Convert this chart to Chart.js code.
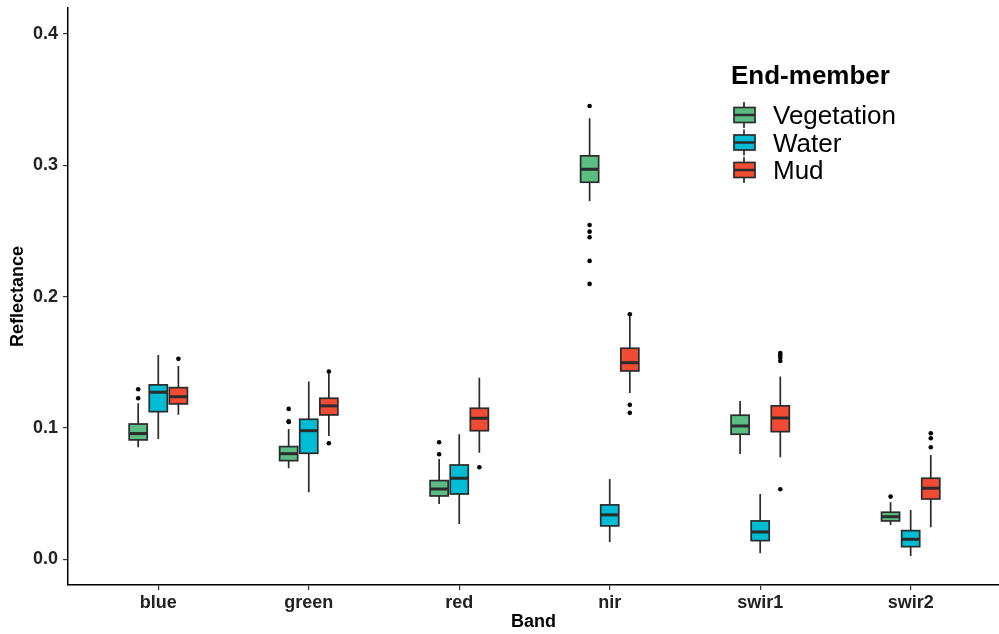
<!DOCTYPE html>
<html>
<head>
<meta charset="utf-8">
<script src="https://cdn.jsdelivr.net/npm/chart.js@4.4.1/dist/chart.umd.min.js"></script>
<style>
  body { margin: 0; background: #fff; }
  canvas { display: block; }
</style>
</head>
<body>
<canvas id="boxChart" width="999" height="634"></canvas>
<script>
const bands = ['blue', 'green', 'red', 'nir', 'swir1', 'swir2'];
const members = ['Vegetation', 'Water', 'Mud'];
const yTicks = [0, 0.1, 0.2, 0.3, 0.4];

// Vegetation
const vegMin = [0.0853, 0.0693, 0.0421, 0.2729, 0.0802, 0.0261];
const vegQ1 = [0.0909, 0.0751, 0.0482, 0.2871, 0.0952, 0.0292];
const vegMed = [0.0957, 0.0804, 0.0535, 0.2970, 0.1015, 0.0324];
const vegQ3 = [0.1030, 0.0858, 0.0599, 0.3072, 0.1097, 0.0358];
const vegMax = [0.1188, 0.0992, 0.0764, 0.3359, 0.1206, 0.0434];
const vegOut = [[0.1295, 0.1226], [0.1145, 0.1050, 0.1045], [0.0891, 0.0800], [0.3452, 0.2546, 0.2495, 0.2452, 0.2272, 0.2097], [], [0.0477]];

// Water
const watMin = [0.0916, 0.0510, 0.0269, 0.0132, 0.0046, 0.0025];
const watQ1 = [0.1124, 0.0807, 0.0497, 0.0254, 0.0142, 0.0096];
const watMed = [0.1272, 0.0979, 0.0617, 0.0338, 0.0208, 0.0152];
const watQ3 = [0.1328, 0.1066, 0.0718, 0.0414, 0.0292, 0.0218];
const watMax = [0.1556, 0.1353, 0.0952, 0.0612, 0.0497, 0.0375];
const watOut = [[], [], [], [], [], []];

// Mud
const mudMin = [0.1101, 0.0939, 0.0812, 0.1267, 0.0777, 0.0244];
const mudQ1 = [0.1183, 0.1099, 0.0979, 0.1434, 0.0972, 0.0459];
const mudMed = [0.1238, 0.1168, 0.1074, 0.1497, 0.1076, 0.0541];
const mudQ3 = [0.1307, 0.1226, 0.1150, 0.1607, 0.1168, 0.0617];
const mudMax = [0.1472, 0.1410, 0.1383, 0.1855, 0.1391, 0.0794];
const mudOut = [[0.1526], [0.1429, 0.0883], [0.0701], [0.1866, 0.1176, 0.1115], [0.1571, 0.1553, 0.1535, 0.1510, 0.0533], [0.0960, 0.0922, 0.0853]];

const stats = [
    { min: vegMin, q1: vegQ1, med: vegMed, q3: vegQ3, max: vegMax, out: vegOut },
    { min: watMin, q1: watQ1, med: watMed, q3: watQ3, max: watMax, out: watOut },
    { min: mudMin, q1: mudQ1, med: mudMed, q3: mudQ3, max: mudMax, out: mudOut }
];
const fills = ['#5bbd83', '#00bcd4', '#f14b34'];
const dodge = [-0.1336, 0, 0.1336];
const boxWidth = 0.12;
const edge = '#2b2b2b';

Chart.defaults.font.family = '"Liberation Sans", Arial, sans-serif';

const boxPlugin = {
    id: 'boxes',
    beforeDatasetsDraw(chart) {
        const ctx = chart.ctx;
        const x = chart.scales.x, y = chart.scales.y;
        ctx.save();
        stats.forEach((s, m) => {
            bands.forEach((b, i) => {
                const c = i + dodge[m];
                const xc = x.getPixelForValue(c);
                const x0 = x.getPixelForValue(c - boxWidth / 2);
                const x1 = x.getPixelForValue(c + boxWidth / 2);
                const yMin = y.getPixelForValue(s.min[i]);
                const yQ1 = y.getPixelForValue(s.q1[i]);
                const yMed = y.getPixelForValue(s.med[i]);
                const yQ3 = y.getPixelForValue(s.q3[i]);
                const yMax = y.getPixelForValue(s.max[i]);
                ctx.strokeStyle = edge;
                ctx.lineWidth = 1.7;
                ctx.beginPath();
                ctx.moveTo(xc, yMax); ctx.lineTo(xc, yQ3);
                ctx.moveTo(xc, yQ1); ctx.lineTo(xc, yMin);
                ctx.stroke();
                ctx.fillStyle = fills[m];
                ctx.fillRect(x0, yQ3, x1 - x0, yQ1 - yQ3);
                ctx.strokeRect(x0, yQ3, x1 - x0, yQ1 - yQ3);
                ctx.lineWidth = 3;
                ctx.beginPath();
                ctx.moveTo(x0, yMed); ctx.lineTo(x1, yMed);
                ctx.stroke();
            });
        });
        ctx.restore();
    },
    afterDraw(chart) {
        const ctx = chart.ctx;
        ctx.save();
        ctx.fillStyle = '#000';
        ctx.textAlign = 'left';
        ctx.textBaseline = 'alphabetic';
        ctx.font = 'bold 26px "Liberation Sans", Arial, sans-serif';
        ctx.fillText('End-member', 731, 84);
        const rows = [115, 142.5, 170];
        members.forEach((name, m) => {
            const cy = rows[m];
            ctx.strokeStyle = edge;
            ctx.lineWidth = 1.7;
            ctx.beginPath();
            ctx.moveTo(744, cy - 13); ctx.lineTo(744, cy + 13);
            ctx.stroke();
            ctx.fillStyle = fills[m];
            ctx.fillRect(734, cy - 7.5, 21, 15);
            ctx.strokeRect(734, cy - 7.5, 21, 15);
            ctx.lineWidth = 2.5;
            ctx.beginPath();
            ctx.moveTo(734, cy); ctx.lineTo(755, cy);
            ctx.stroke();
            ctx.fillStyle = '#000';
            ctx.font = '26px "Liberation Sans", Arial, sans-serif';
            ctx.fillText(name, 773, cy + 9);
        });
        ctx.restore();
    }
};

const datasets = stats.map((s, m) => {
    const pts = [];
    s.out.forEach((vals, i) => {
        vals.forEach(v => pts.push({ x: i + dodge[m], y: v }));
    });
    return {
        label: members[m],
        data: pts,
        pointRadius: 2.3,
        pointBackgroundColor: '#000',
        pointBorderWidth: 0
    };
});

const ctx = document.getElementById('boxChart').getContext('2d');
new Chart(ctx, {
    type: 'scatter',
    data: { datasets: datasets },
    plugins: [boxPlugin],
    options: {
        responsive: false,
        animation: false,
        layout: { autoPadding: false, padding: { top: 8, right: 0, left: 0, bottom: 0 } },
        plugins: {
            legend: { display: false },
            tooltip: { enabled: false }
        },
        scales: {
            x: {
                type: 'linear',
                min: -0.6,
                max: 5.587,
                afterBuildTicks: s => { s.ticks = bands.map((b, i) => ({ value: i })); },
                afterFit: s => { s.height = 49; s.paddingLeft = 0; s.paddingRight = 0; },
                ticks: {
                    callback: v => bands[v],
                    font: { size: 18, weight: 'bold' },
                    color: '#222',
                    padding: 2,
                    maxRotation: 0
                },
                grid: { drawOnChartArea: false, drawTicks: true, tickLength: 5, color: '#333', lineWidth: 1.2 },
                border: { display: true, color: '#000', width: 1.5 },
                title: {
                    display: true,
                    text: 'Band',
                    font: { size: 18, weight: 'bold' },
                    color: '#000',
                    padding: { top: 0, bottom: 1 }
                }
            },
            y: {
                min: -0.0196,
                max: 0.4198,
                afterBuildTicks: s => { s.ticks = yTicks.map(v => ({ value: v })); },
                afterFit: s => { s.width = 68; s.paddingTop = 0; s.paddingBottom = 0; },
                ticks: {
                    callback: v => v.toFixed(1),
                    font: { size: 18, weight: 'bold' },
                    color: '#222',
                    padding: 5
                },
                grid: { drawOnChartArea: false, drawTicks: true, tickLength: 5, color: '#333', lineWidth: 1.2 },
                border: { display: true, color: '#000', width: 1.5 },
                title: {
                    display: true,
                    text: 'Reflectance',
                    font: { size: 18, weight: 'bold' },
                    color: '#000',
                    padding: { top: 7, bottom: 0 }
                }
            }
        }
    }
});
</script>
</body>
</html>
